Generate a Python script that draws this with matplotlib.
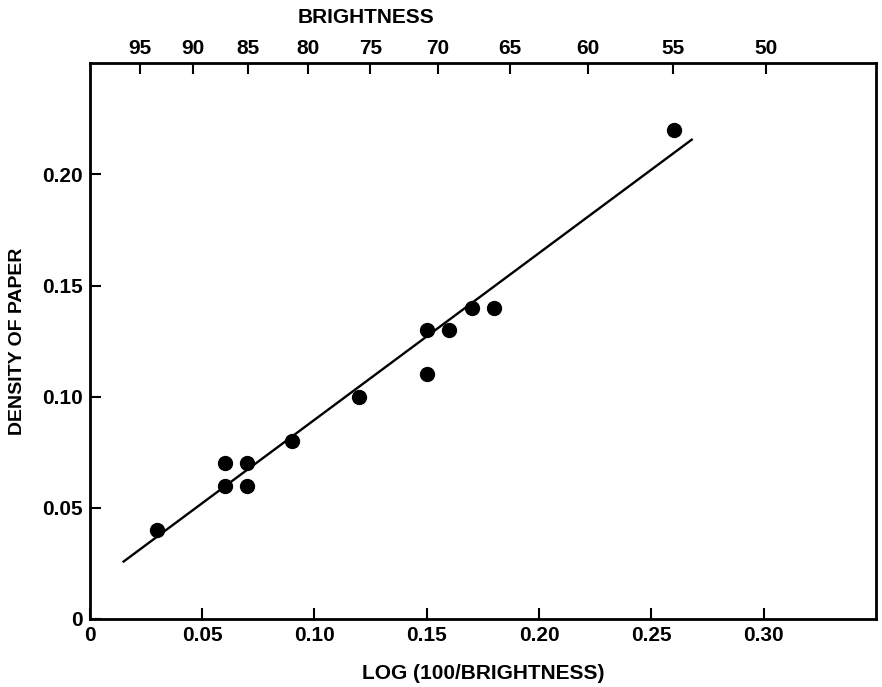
import matplotlib.pyplot as plt
import numpy as np

plt.rcParams['font.family'] = ['Liberation Sans', 'DejaVu Sans']
plt.rcParams['font.weight'] = 'bold'

# Измерения: log(100/яркость) и плотность бумаги
log_b = [0.03, 0.06, 0.06, 0.07, 0.07, 0.09, 0.12, 0.15, 0.15, 0.16, 0.17, 0.18, 0.26]
density = [0.04, 0.07, 0.06, 0.07, 0.06, 0.08, 0.10, 0.13, 0.11, 0.13, 0.14, 0.14, 0.22]

# Прямая регрессии
fit_x = [0.015, 0.268]
fit_slope = 0.75
fit_icpt = 0.0146

# Шкала яркости сверху
brightness = [95, 90, 85, 80, 75, 70, 65, 60, 55, 50]

x_ticks = [0, 0.05, 0.10, 0.15, 0.20, 0.25, 0.30]
x_labels = ['0', '0.05', '0.10', '0.15', '0.20', '0.25', '0.30']
y_ticks = [0, 0.05, 0.10, 0.15, 0.20]
y_labels = ['0', '0.05', '0.10', '0.15', '0.20']

fig = plt.figure(figsize=(8.82, 6.87), dpi=100)
ax = fig.add_axes([0.102, 0.099, 0.891, 0.809])

fx = np.array(fit_x)
ax.plot(fx, fit_slope * fx + fit_icpt, color='black', lw=1.7)
ax.plot(log_b, density, 'o', color='black', ms=10)

ax.set_xlim(0, 0.35)
ax.set_ylim(0, 0.25)
ax.set_xticks(x_ticks)
ax.set_xticklabels(x_labels)
ax.set_yticks(y_ticks)
ax.set_yticklabels(y_labels)
ax.tick_params(direction='in', length=8, width=1.5, labelsize=15, pad=5)
for s in ax.spines.values():
    s.set_linewidth(2)

top = ax.twiny()
top.set_xlim(ax.get_xlim())
top.set_xticks(np.log10(100 / np.array(brightness)))
top.set_xticklabels([str(b) for b in brightness])
top.tick_params(direction='in', length=8, width=1.5, labelsize=15, pad=4)

ax.set_xlabel('LOG (100/BRIGHTNESS)', fontsize=15, fontweight='bold', labelpad=14)
ax.set_ylabel('DENSITY OF PAPER', fontsize=14, fontweight='bold', labelpad=12)
top.text(0.123, 1.065, 'BRIGHTNESS', transform=top.get_xaxis_transform(),
         ha='center', va='bottom', fontsize=15, fontweight='bold')

fig.savefig('out.png', dpi=100)
